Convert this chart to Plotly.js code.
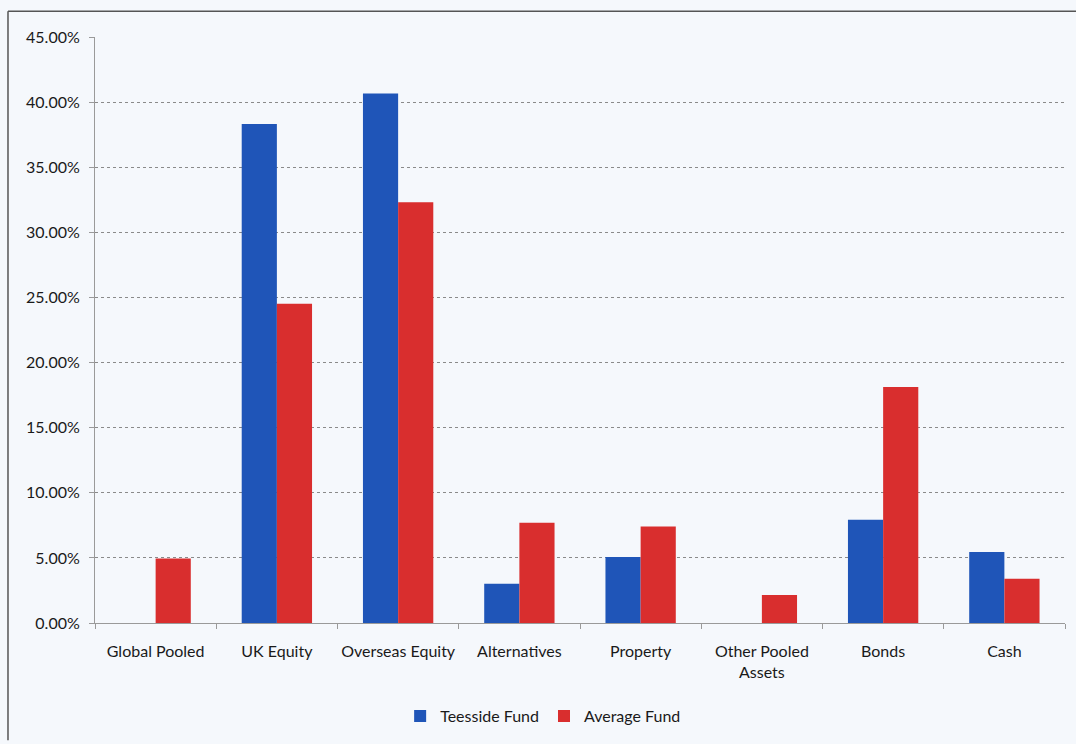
<!DOCTYPE html>
<html>
<head>
<meta charset="utf-8">
<script src="https://cdn.plot.ly/plotly-3.0.1.min.js"></script>
<style>
html,body{margin:0;padding:0;background:#f5f8fc;}
#chart{width:1076px;height:744px;}
</style>
</head>
<body>
<div id="chart"></div>
<script>
const categories = ["Global Pooled", "UK Equity", "Overseas Equity", "Alternatives", "Property", "Other Pooled<br>Assets", "Bonds", "Cash"];
const teessideFund = [0, 38.35, 40.69, 3.02, 5.08, 0, 7.94, 5.45];
const averageFund = [4.95, 24.53, 32.34, 7.71, 7.41, 2.15, 18.14, 3.40];
const yTicks = [0, 5, 10, 15, 20, 25, 30, 35, 40, 45];

const traces = [
  {
    type: 'bar', name: 'Teesside Fund', x: categories, y: teessideFund,
    marker: {color: '#1f55b8', line: {width: 0}},
    hoverinfo: 'x+y'
  },
  {
    type: 'bar', name: 'Average Fund', x: categories, y: averageFund,
    marker: {color: '#d92e2e', line: {width: 0}},
    hoverinfo: 'x+y'
  }
];

const fontFam = 'Lato, "Open Sans", sans-serif';
const txtCol = '#1a1a1a';
const layout = {
  width: 1076, height: 744,
  margin: {l: 95, r: 11, t: 37, b: 115},
  paper_bgcolor: '#f5f8fc',
  plot_bgcolor: '#f5f8fc',
  font: {family: fontFam, size: 16, color: txtCol},
  barmode: 'group',
  bargap: 0.42,
  bargroupgap: 0,
  showlegend: true,
  legend: {orientation: 'h', x: 0.462, xanchor: 'center', y: -0.13, yanchor: 'top',
           font: {family: fontFam, size: 16, color: txtCol}, itemwidth: 30, traceorder: 'normal'},
  xaxis: {
    type: 'category',
    showline: true, linecolor: '#9a9a9a', linewidth: 1,
    ticks: 'outside', tickson: 'boundaries', ticklen: 5, tickcolor: '#9a9a9a',
    ticklabelstandoff: 14, tickangle: 0,
    showgrid: false, tickfont: {family: fontFam, size: 16, color: txtCol},
    fixedrange: true
  },
  yaxis: {
    range: [0, 45.03], tickvals: yTicks,
    ticktext: yTicks.map(v => v.toFixed(2) + '%'),
    showline: true, linecolor: '#9a9a9a', linewidth: 1,
    ticks: 'outside', ticklen: 5, tickcolor: '#9a9a9a',
    ticklabelstandoff: 6,
    showgrid: true, gridcolor: '#8a8a8a', gridwidth: 1, griddash: 'dot',
    zeroline: false,
    tickfont: {family: fontFam, size: 16, color: txtCol},
    fixedrange: true
  },
  shapes: [
    {type: 'line', xref: 'paper', yref: 'paper', x0: -0.0897, x1: 1.02, y0: 1.0439, y1: 1.0439,
     line: {color: '#555', width: 1.5}},
    {type: 'line', xref: 'paper', yref: 'paper', x0: -0.0897, x1: -0.0897, y0: 1.0439, y1: -0.2,
     line: {color: '#555', width: 1.5}}
  ]
};

Plotly.newPlot('chart', traces, layout, {displayModeBar: false, staticPlot: true});
</script>
</body>
</html>
